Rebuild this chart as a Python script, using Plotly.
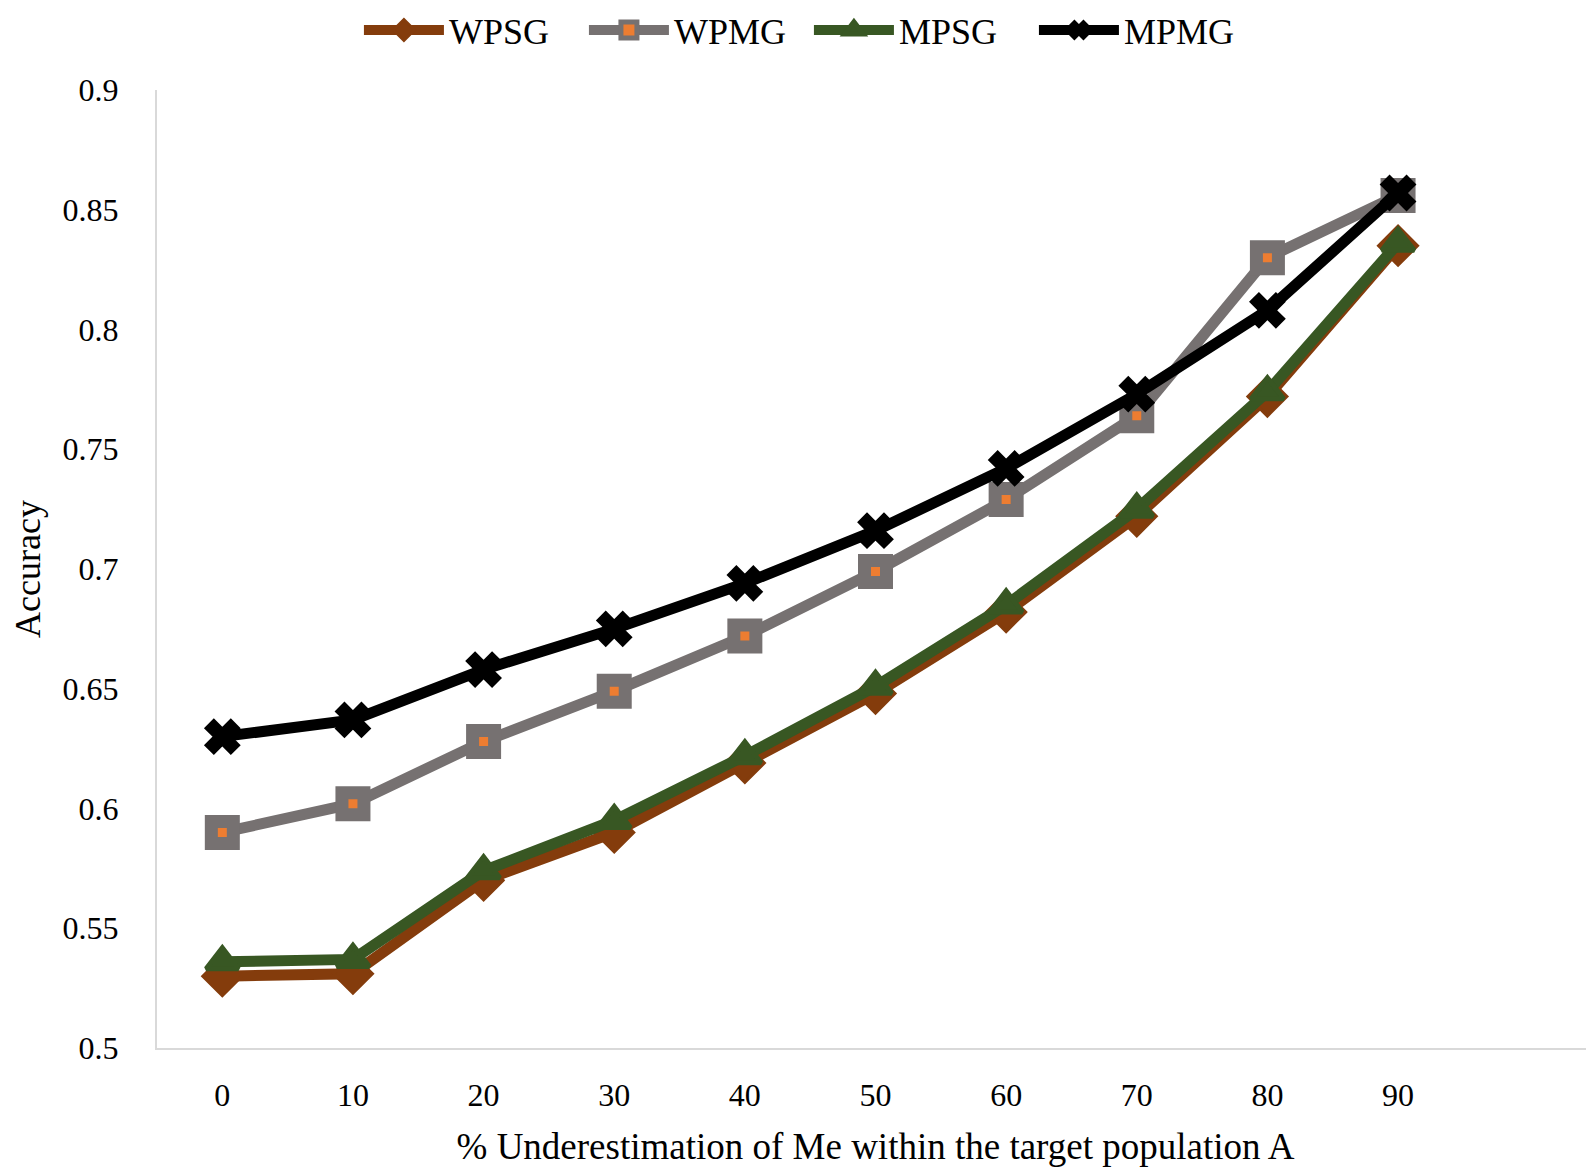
import plotly.graph_objects as go

x_vals = [0, 10, 20, 30, 40, 50, 60, 70, 80, 90]
wpsg = [0.530, 0.531, 0.570, 0.590, 0.619, 0.648, 0.682, 0.722, 0.772, 0.835]
wpmg = [0.590, 0.602, 0.628, 0.649, 0.672, 0.699, 0.729, 0.764, 0.830, 0.856]
mpsg = [0.536, 0.537, 0.574, 0.595, 0.622, 0.651, 0.685, 0.725, 0.774, 0.836]
mpmg = [0.630, 0.637, 0.658, 0.675, 0.694, 0.716, 0.742, 0.773, 0.808, 0.857]
y_ticks = [0.5, 0.55, 0.6, 0.65, 0.7, 0.75, 0.8, 0.85, 0.9]
y_tick_text = ["0.5", "0.55", "0.6", "0.65", "0.7", "0.75", "0.8", "0.85", "0.9"]

FONT = "Liberation Serif, Times New Roman, serif"

fig = go.Figure()
fig.add_trace(go.Scatter(
    x=x_vals, y=wpsg, name="WPSG", mode="lines+markers",
    line=dict(color="#843C0C", width=11),
    marker=dict(symbol="diamond", size=30, color="#843C0C",
                line=dict(color="#843C0C", width=3)),
))
fig.add_trace(go.Scatter(
    x=x_vals, y=wpmg, name="WPMG", mode="lines+markers",
    line=dict(color="#767171", width=11),
    marker=dict(symbol="square", size=22, color="#ED7D31",
                line=dict(color="#767171", width=13)),
))
fig.add_trace(go.Scatter(
    x=x_vals, y=mpsg, name="MPSG", mode="lines+markers",
    line=dict(color="#385723", width=11),
    marker=dict(symbol="triangle-up", size=28, color="#385723",
                line=dict(color="#385723", width=5)),
))
fig.add_trace(go.Scatter(
    x=x_vals, y=mpmg, name="MPMG", mode="lines+markers",
    line=dict(color="#000000", width=11),
    marker=dict(symbol="x", size=30, color="#000000",
                line=dict(color="#000000", width=2)),
))

fig.update_layout(
    width=1586, height=1162,
    paper_bgcolor="white", plot_bgcolor="white",
    margin=dict(l=149, r=0, t=82, b=122, autoexpand=False),
    font=dict(family=FONT, color="black", size=32),
    showlegend=True,
    legend=dict(orientation="h", xref="container", yref="paper",
                x=0.505, xanchor="center", y=1.0626, yanchor="middle",
                font=dict(family=FONT, size=36), itemwidth=80,
                entrywidth=130, entrywidthmode="pixels", tracegroupgap=0),
    xaxis=dict(
        range=[-5, 105], tickvals=x_vals, ticktext=[str(v) for v in x_vals],
        showgrid=False, zeroline=False, showline=True, linecolor="#D9D9D9", linewidth=2,
        ticks="", tickfont=dict(family=FONT, size=32), ticklabelstandoff=18,
        automargin=False,
        title=dict(text="% Underestimation of Me within the target population A",
                   font=dict(family=FONT, size=37), standoff=21),
    ),
    yaxis=dict(
        range=[0.5, 0.9], tickvals=y_ticks, ticktext=y_tick_text,
        showgrid=False, zeroline=False, showline=True, linecolor="#D9D9D9", linewidth=2,
        ticks="", tickfont=dict(family=FONT, size=32), ticklabelstandoff=30,
        automargin=False,
        title=dict(text="Accuracy", font=dict(family=FONT, size=36), standoff=36),
    ),
)

fig.write_html("out.html")
